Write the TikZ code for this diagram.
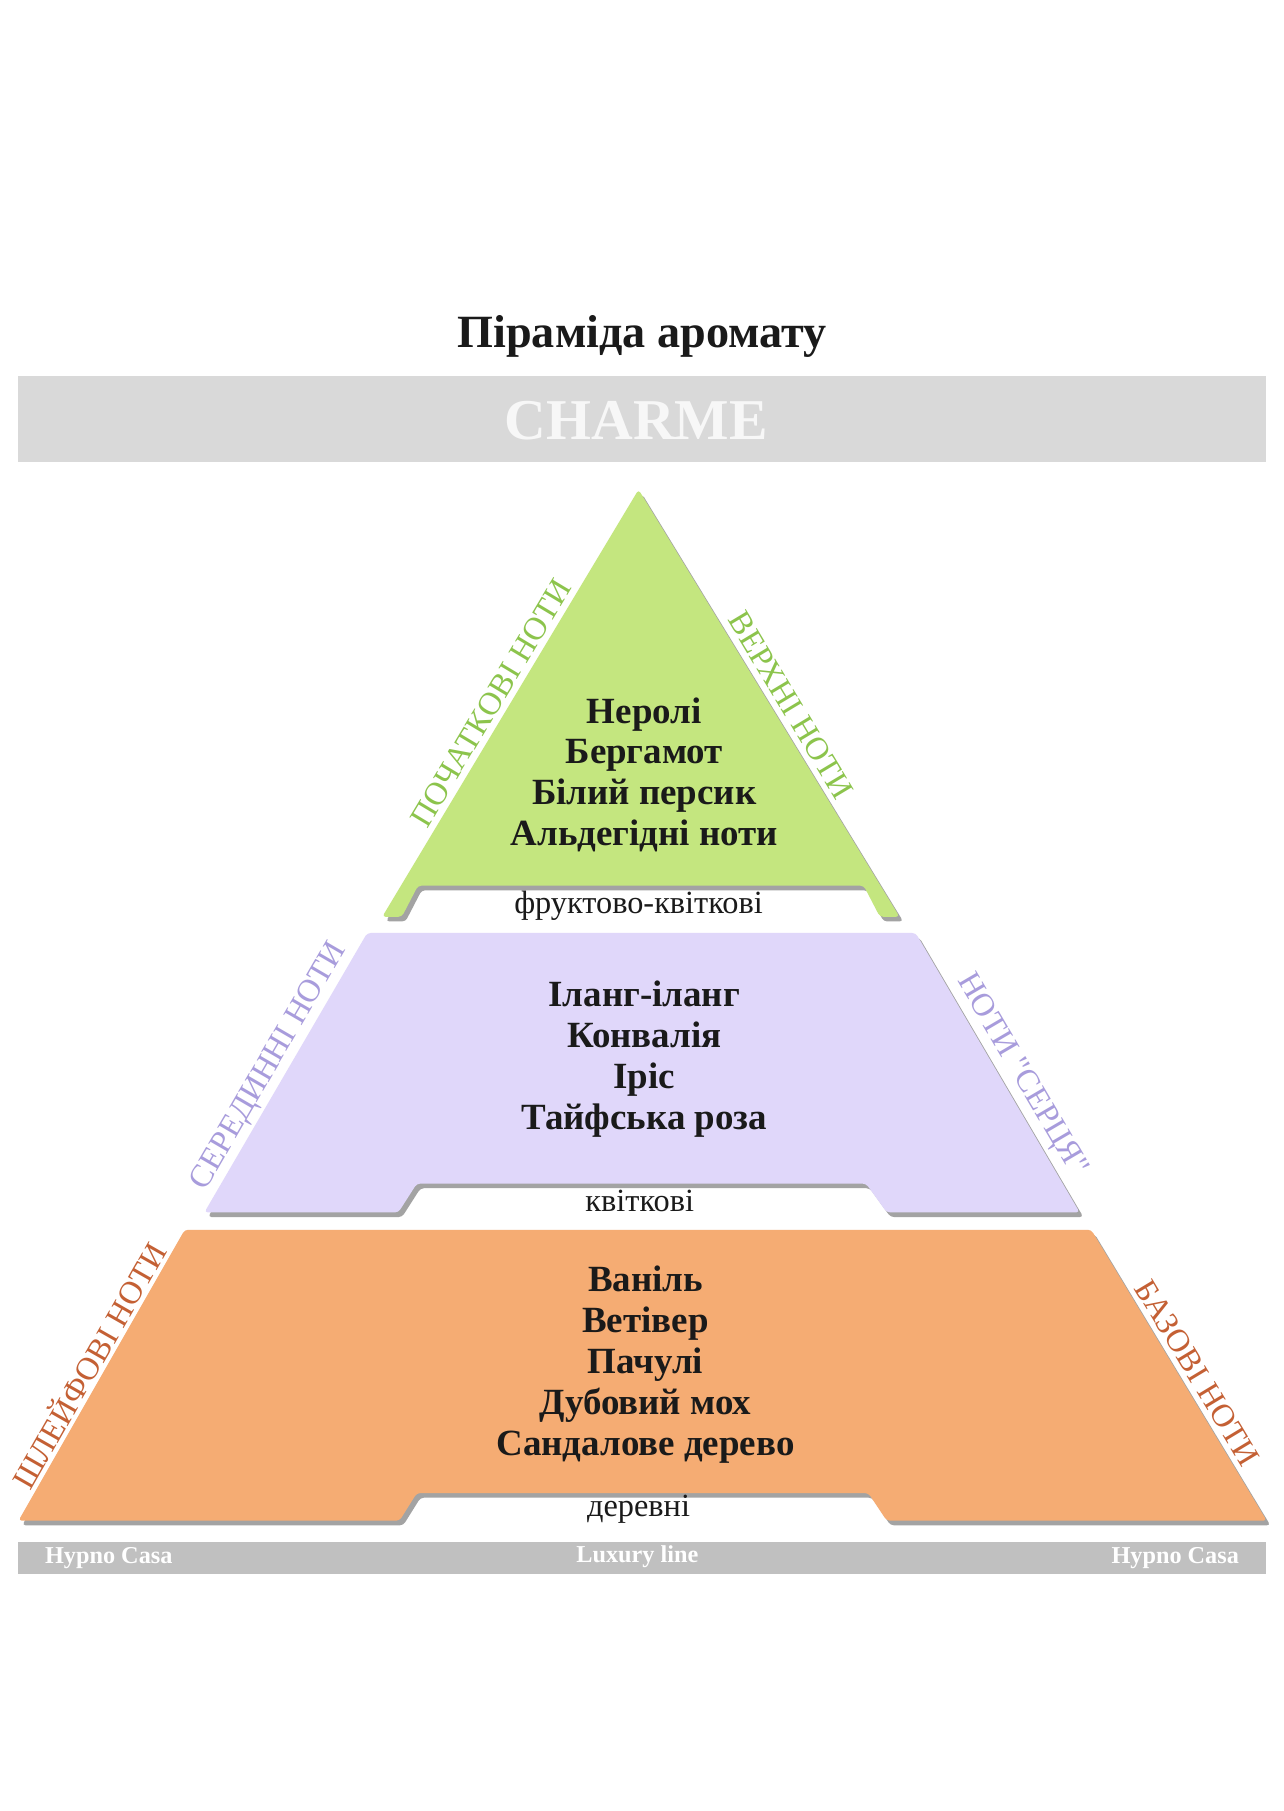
\documentclass[tikz,border=0pt]{standalone}
\usepackage{fontspec}
\setmainfont{Liberation Serif}
\usetikzlibrary{shadows}
\definecolor{grnfill}{RGB}{196,230,127}
\definecolor{grnlab}{RGB}{140,196,76}
\definecolor{purfill}{RGB}{224,215,250}
\definecolor{purlab}{RGB}{168,156,220}
\definecolor{orgfill}{RGB}{245,172,115}
\definecolor{orglab}{RGB}{196,96,52}
\definecolor{topband}{RGB}{217,217,217}
\definecolor{botband}{RGB}{192,192,192}
\definecolor{txt}{RGB}{26,26,26}
\tikzset{
  tier/.style={drop shadow={shadow xshift=1.6pt,shadow yshift=-2pt,opacity=.45,fill=black!80}, rounded corners=1.5pt},
  sidelab/.style={anchor=south, inner sep=2pt, font=\fontsize{14}{16}\selectfont},
  notes/.style={align=center, text=txt, font=\bfseries\fontsize{16}{17.7}\selectfont},
  kind/.style={text=txt, font=\fontsize{14}{16}\selectfont},
  foot/.style={text=white, font=\bfseries\fontsize{10.5}{12}\selectfont}
}
\begin{document}
\begin{tikzpicture}[x=0.5pt,y=-0.5pt]
\useasboundingbox[fill=white] (0,0) rectangle (1112,1568.4);

% title
\node[text=txt, font=\bfseries\fontsize{20}{24}\selectfont] (title) at (556,291) {Піраміда аромату};

% top band
\fill[topband] (16,326) rectangle (1096,400);
\node[text=white!97!black, font=\bfseries\fontsize{25}{30}\selectfont] (charme) at (551,364) {CHARME};

% tiers
\fill[grnfill, tier] (553,424) -- (779,794) -- (762,794) -- (748,767) -- (362,767) -- (348,794) -- (331,794) -- cycle;
\fill[purfill, tier] (318,808) -- (793,808) -- (935,1050) -- (768,1050) -- (750,1025) -- (361,1025) -- (345,1050) -- (177,1050) -- cycle;
\fill[orgfill, tier] (160,1065) -- (945,1065) -- (1097,1317) -- (768,1317) -- (752,1293) -- (361,1293) -- (346,1317) -- (16,1317) -- cycle;

% side labels
\node[sidelab, text=grnlab, rotate=59] (l1) at (437,616) {ПОЧАТКОВІ НОТИ};
\node[sidelab, text=grnlab, rotate=-59] (r1) at (673,618) {ВЕРХНІ НОТИ};
\node[sidelab, text=purlab, rotate=59.8] (l2) at (248,932) {СЕРЕДИННІ НОТИ};
\node[sidelab, text=purlab, rotate=-59.6] (r2) at (870,940) {\addfontfeature{Ligatures=TeXOff}НОТИ "СЕРЦЯ"};
\node[sidelab, text=orglab, rotate=60.3] (l3) at (90,1190) {ШЛЕЙФОВІ НОТИ};
\node[sidelab, text=orglab, rotate=-58.9] (r3) at (1025,1196) {БАЗОВІ НОТИ};

% notes
\node[notes] (n1) at (558,671) {Неролі\\Бергамот\\Білий персик\\Альдегідні ноти};
\node[notes] (n2) at (558,917) {Іланг-іланг\\Конвалія\\Іріс\\Тайфська роза};
\node[notes] (n3) at (559,1182) {Ваніль\\Ветівер\\Пачулі\\Дубовий мох\\Сандалове дерево};

% kinds
\node[kind] (k1) at (553,784) {фруктово-квіткові};
\node[kind] (k2) at (554,1040) {квіткові};
\node[kind] (k3) at (553,1307) {деревні};

% bottom band
\fill[botband] (16,1335) rectangle (1096,1363);
\node[foot, anchor=west] (f1) at (32,1349) {Hypno Casa};
\node[foot] (f2) at (552,1348) {Luxury line};
\node[foot, anchor=east] (f3) at (1080,1349) {Hypno Casa};
\end{tikzpicture}
\end{document}
